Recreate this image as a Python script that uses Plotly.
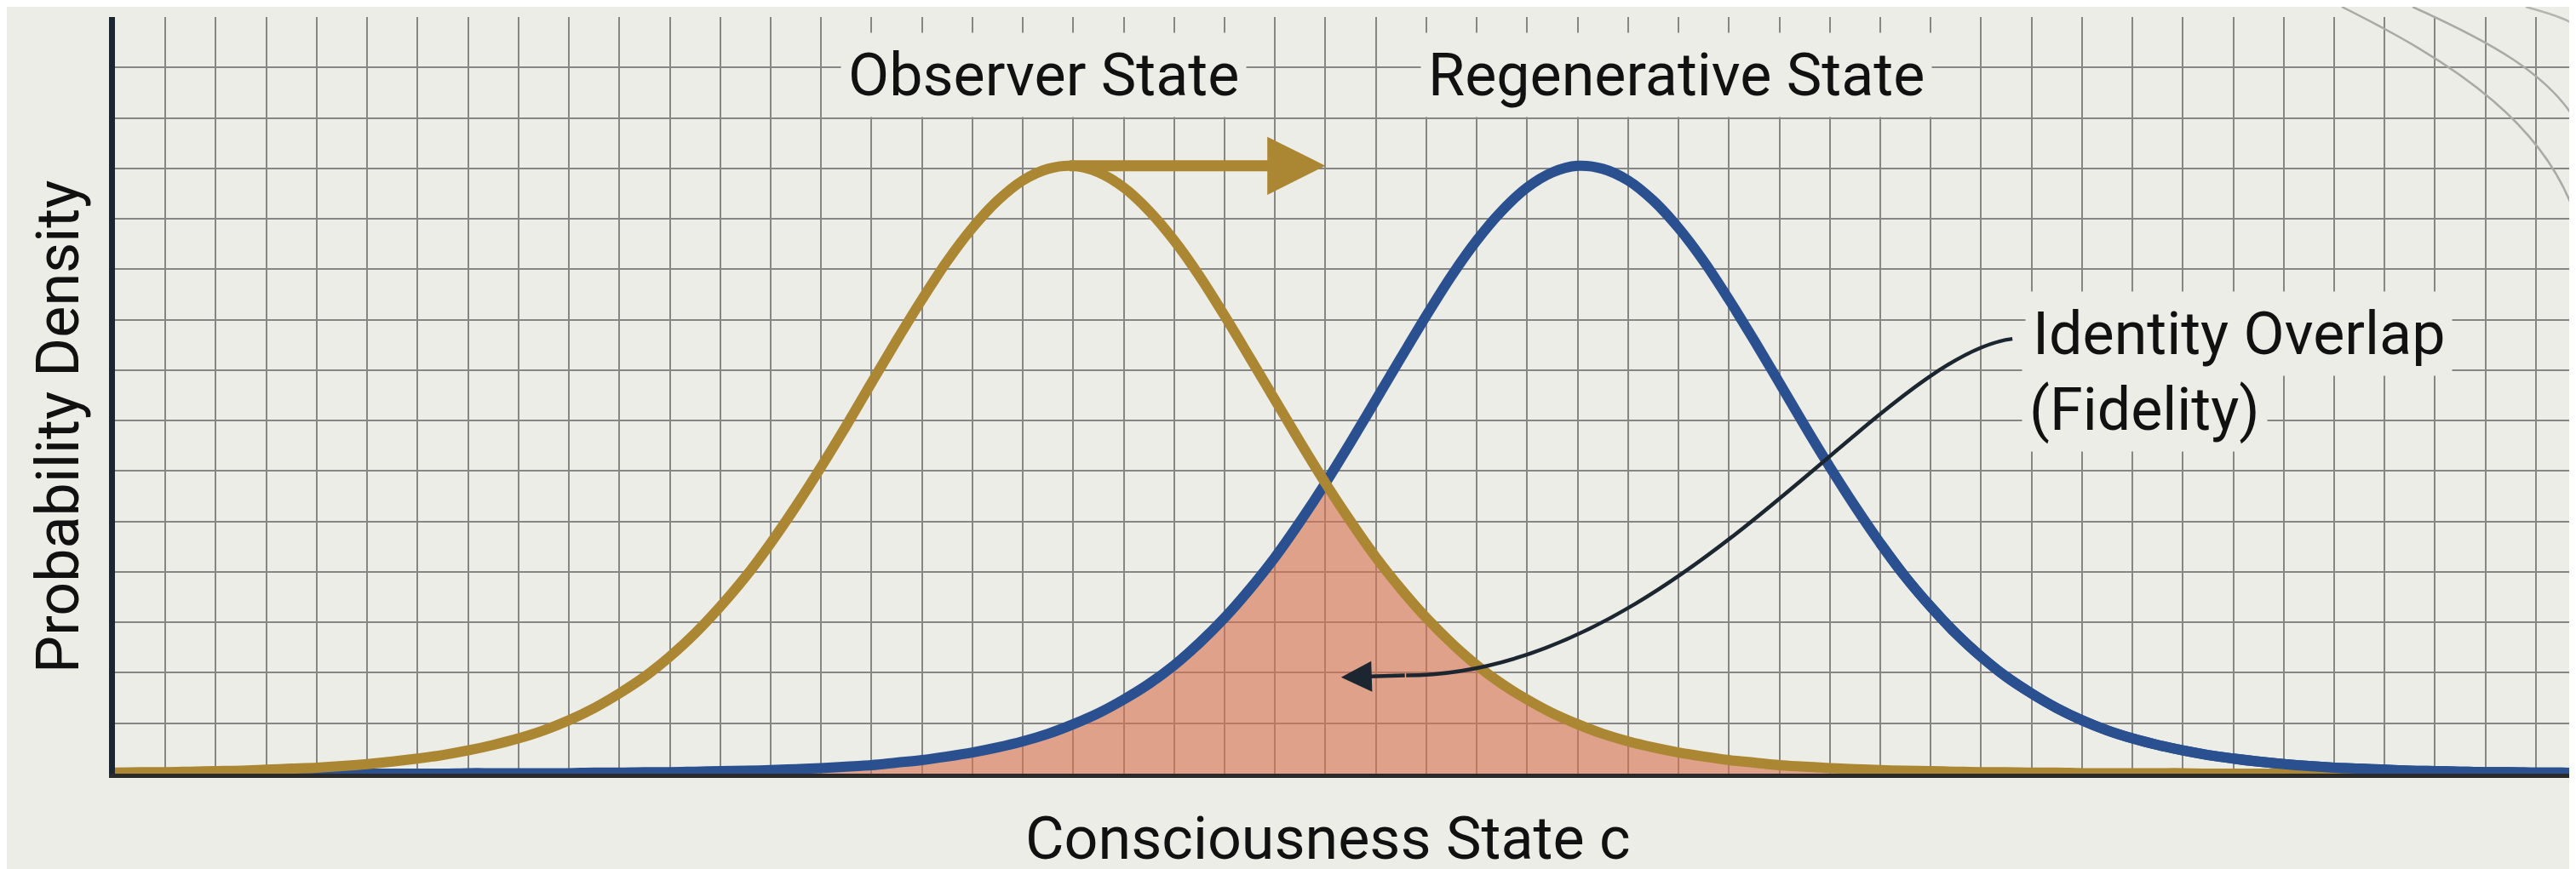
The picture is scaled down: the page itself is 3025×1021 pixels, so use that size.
import plotly.graph_objects as go

# ---------------- data (grid units) ----------------
consciousness_c = [0.0, 0.5, 1.0, 1.5, 2.0, 2.5, 3.0, 3.5, 4.0, 4.5,
                   5.0, 5.5, 6.0, 6.5, 7.0, 7.5, 8.0, 8.5, 9.0, 9.5,
                   10.0, 10.5, 11.0, 11.5, 12.0, 12.5, 13.0, 13.5, 14.0, 14.5,
                   15.0, 15.5, 16.0, 16.5, 17.0, 17.5, 18.0, 18.5, 19.0, 19.5,
                   20.0, 20.5, 21.0, 21.5, 22.0, 22.5, 23.0, 23.5, 24.0, 24.5,
                   25.0, 25.5, 26.0, 26.5, 27.0, 27.5, 28.0, 28.5, 29.0, 29.5,
                   30.0, 30.5, 31.0, 31.5, 32.0, 32.5, 33.0, 33.5, 34.0, 34.5,
                   35.0, 35.5, 36.0, 36.5, 37.0, 37.5, 38.0, 38.5, 39.0, 39.5,
                   40.0, 40.5, 41.0, 41.5, 42.0, 42.5, 43.0, 43.5, 44.0, 44.5,
                   45.0, 45.5, 46.0, 46.5, 47.0, 47.5, 48.0, 48.5, 49.0]

observer_density = [0.02, 0.03, 0.03, 0.04, 0.05, 0.06, 0.08, 0.10, 0.12, 0.15,
                    0.19, 0.24, 0.30, 0.37, 0.46, 0.57, 0.70, 0.86, 1.06, 1.30,
                    1.59, 1.92, 2.32, 2.78, 3.31, 3.90, 4.57, 5.30, 6.08, 6.90,
                    7.75, 8.59, 9.40, 10.16, 10.82, 11.36, 11.76, 11.99, 12.05, 11.92,
                    11.62, 11.16, 10.57, 9.87, 9.08, 8.25, 7.41, 6.57, 5.76, 5.00,
                    4.29, 3.66, 3.09, 2.59, 2.15, 1.78, 1.47, 1.20, 0.98, 0.79,
                    0.64, 0.52, 0.42, 0.34, 0.27, 0.22, 0.17, 0.14, 0.11, 0.09,
                    0.07, 0.06, 0.05, 0.04, 0.03, 0.03, 0.02, 0.02, 0.01, 0.01,
                    0.01, 0.01, 0.01, 0.00, 0.00, 0.00, 0.00, 0.00, 0.00, 0.00,
                    0.00, 0.00, 0.00, 0.00, 0.00, 0.00, 0.00, 0.00, 0.00]

regenerative_density = [0.00, 0.00, 0.00, 0.00, 0.00, 0.00, 0.00, 0.00, 0.00, 0.00,
                        0.00, 0.00, 0.00, 0.00, 0.01, 0.01, 0.01, 0.01, 0.01, 0.02,
                        0.02, 0.03, 0.03, 0.04, 0.05, 0.06, 0.07, 0.09, 0.11, 0.14,
                        0.17, 0.22, 0.27, 0.34, 0.42, 0.52, 0.64, 0.79, 0.98, 1.20,
                        1.47, 1.78, 2.15, 2.59, 3.09, 3.66, 4.29, 5.00, 5.76, 6.57,
                        7.41, 8.25, 9.08, 9.87, 10.57, 11.16, 11.62, 11.92, 12.05, 11.99,
                        11.76, 11.36, 10.82, 10.16, 9.40, 8.59, 7.75, 6.90, 6.08, 5.30,
                        4.57, 3.90, 3.31, 2.78, 2.32, 1.92, 1.59, 1.30, 1.06, 0.86,
                        0.70, 0.57, 0.46, 0.37, 0.30, 0.24, 0.19, 0.15, 0.12, 0.10,
                        0.08, 0.06, 0.05, 0.04, 0.03, 0.03, 0.02, 0.02, 0.01]

observer_label = "Observer State"
regenerative_label = "Regenerative State"
overlap_label_1 = "Identity Overlap"
overlap_label_2 = "(Fidelity)"
x_title = "Consciousness State c"
y_title = "Probability Density"

# ---------------- styles ----------------
BG = "#EDEDE8"
GRID = "#868684"
GOLD = "#AC8733"
BLUE = "#2A5090"
DARK = "#1C2630"
FILL = "rgba(215,115,80,0.62)"
FONT = "Roboto, 'Noto Sans', 'DejaVu Sans', sans-serif"
FS = 70

overlap_density = [min(a, b) for a, b in zip(observer_density, regenerative_density)]

fig = go.Figure()
fig.add_trace(go.Scatter(x=consciousness_c, y=overlap_density, mode="lines",
                         line=dict(width=0, color=FILL), fill="tozeroy",
                         fillcolor=FILL, hoverinfo="skip"))
fig.add_trace(go.Scatter(x=consciousness_c, y=regenerative_density, mode="lines",
                         line=dict(color=BLUE, width=12, shape="spline", smoothing=1.0),
                         hoverinfo="skip"))
fig.add_trace(go.Scatter(x=consciousness_c, y=observer_density, mode="lines",
                         line=dict(color=GOLD, width=12, shape="spline", smoothing=1.0),
                         hoverinfo="skip"))
# right tail of the regenerative curve drawn over the flat gold tail
fig.add_trace(go.Scatter(x=consciousness_c[70:], y=regenerative_density[70:], mode="lines",
                         line=dict(color=BLUE, width=12, shape="spline", smoothing=1.0),
                         hoverinfo="skip"))

ann = []
txt_font = dict(family=FONT, size=FS, color="#111111")
ann.append(dict(x=18.42, y=13.85, xref="x", yref="y", text=observer_label, showarrow=False,
                font=txt_font, bgcolor=BG, borderpad=8, xanchor="center", yanchor="middle"))
ann.append(dict(x=30.95, y=13.85, xref="x", yref="y", text=regenerative_label, showarrow=False,
                font=txt_font, bgcolor=BG, borderpad=8, xanchor="center", yanchor="middle"))
ann.append(dict(x=37.87, y=8.72, xref="x", yref="y", text=overlap_label_1, showarrow=False,
                font=txt_font, bgcolor=BG, borderpad=8, xanchor="left", yanchor="middle"))
ann.append(dict(x=37.80, y=7.22, xref="x", yref="y", text=overlap_label_2, showarrow=False,
                font=txt_font, bgcolor=BG, borderpad=8, xanchor="left", yanchor="middle"))
ann.append(dict(x=0.4914, y=-0.086, xref="paper", yref="paper", text=x_title, showarrow=False,
                font=txt_font, xanchor="center", yanchor="middle"))
ann.append(dict(x=-0.0231, y=0.458, xref="paper", yref="paper", text=y_title, showarrow=False,
                font=txt_font, xanchor="center", yanchor="middle", textangle=-90))
# gold shift arrow from the observer peak
ann.append(dict(x=24.0, y=12.05, ax=18.9, ay=12.05, xref="x", yref="y", axref="x", ayref="y",
                text="", showarrow=True, arrowhead=2, arrowsize=1.05, arrowwidth=13,
                arrowcolor=GOLD, standoff=0))
# dark curved pointer head
ann.append(dict(x=24.31, y=1.91, ax=25.6, ay=1.95, xref="x", yref="y", axref="x", ayref="y",
                text="", showarrow=True, arrowhead=2, arrowsize=1.6, arrowwidth=4.5,
                arrowcolor=DARK, standoff=0))

shapes = [
    dict(type="path", xref="x", yref="y", layer="above",
         path="M 37.62,8.62 C 35.0,8.3 31.0,1.95 25.6,1.95",
         line=dict(color=DARK, width=4.5)),
    # faint page-curl lines in the top-right corner
    dict(type="path", xref="paper", yref="paper", layer="above",
         path="M 0.90235,1.0135 C 0.94376,0.94601 0.99137,0.85602 1.0,0.69854",
         line=dict(color="#A9A9A6", width=2.5)),
    dict(type="path", xref="paper", yref="paper", layer="above",
         path="M 0.93099,1.0135 C 0.95859,0.97300 0.98965,0.92351 1.0,0.84477",
         line=dict(color="#A9A9A6", width=2.5)),
    dict(type="path", xref="paper", yref="paper", layer="above",
         path="M 0.97688,1.0135 C 0.98965,1.00225 0.99655,0.99325 1.0,0.98200",
         line=dict(color="#B4B4B1", width=2.5)),
]

fig.update_layout(
    width=3025, height=1021,
    margin=dict(l=127, r=0, t=12, b=120, pad=0),
    paper_bgcolor=BG, plot_bgcolor=BG,
    showlegend=False,
    annotations=ann, shapes=shapes,
    xaxis=dict(range=[0, 48.93], tick0=0, dtick=1, showgrid=True, gridcolor=GRID, gridwidth=2,
               showticklabels=False, ticks="", zeroline=False, showline=True,
               linecolor="#2A2A2A", linewidth=5, fixedrange=True),
    yaxis=dict(range=[0, 15], tick0=0, dtick=1, showgrid=True, gridcolor=GRID, gridwidth=2,
               showticklabels=False, ticks="", zeroline=False, showline=True,
               linecolor=DARK, linewidth=7, fixedrange=True),
)

fig.write_html("out.html")
